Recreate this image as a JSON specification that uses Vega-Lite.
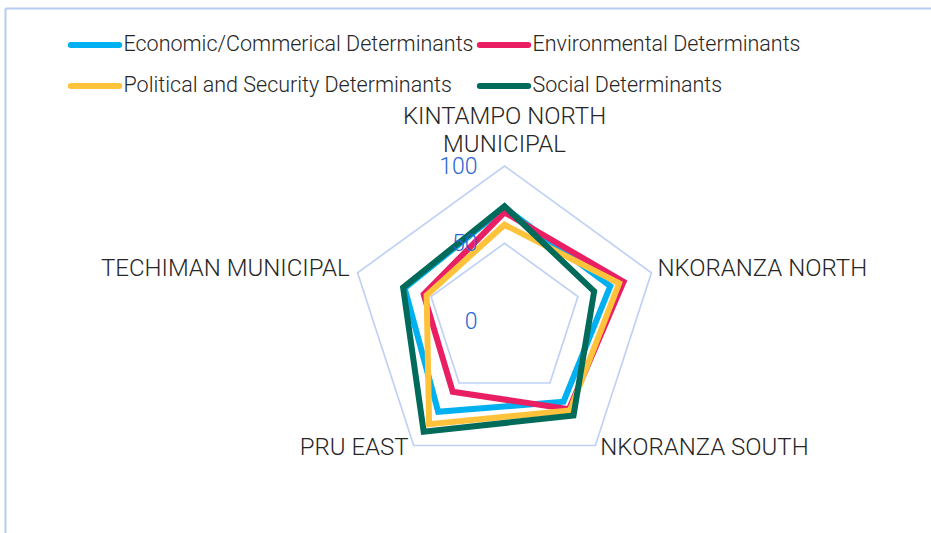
{
  "$schema": "https://vega.github.io/schema/vega-lite/v6.json",
  "width": 926,
  "height": 525,
  "padding": {"left": 5, "top": 8, "right": 0, "bottom": 0},
  "autosize": {"type": "none"},
  "background": "white",
  "config": {
    "view": {"stroke": null},
    "font": "Roboto",
    "text": {"font": "Roboto"},
    "axis": {"labels": false, "ticks": false, "grid": false, "domain": true, "domainColor": "#b7cbf2", "domainWidth": 2}
  },
  "datasets": {
    "axes": [
      {"district": "KINTAMPO NORTH MUNICIPAL", "order": 0},
      {"district": "NKORANZA NORTH", "order": 1},
      {"district": "NKORANZA SOUTH", "order": 2},
      {"district": "PRU EAST", "order": 3},
      {"district": "TECHIMAN MUNICIPAL", "order": 4}
    ],
    "scores": [
      {"series": "Economic/Commerical Determinants", "district": "KINTAMPO NORTH MUNICIPAL", "value": 73},
      {"series": "Economic/Commerical Determinants", "district": "NKORANZA NORTH", "value": 72},
      {"series": "Economic/Commerical Determinants", "district": "NKORANZA SOUTH", "value": 65},
      {"series": "Economic/Commerical Determinants", "district": "PRU EAST", "value": 73},
      {"series": "Economic/Commerical Determinants", "district": "TECHIMAN MUNICIPAL", "value": 68},
      {"series": "Environmental Determinants", "district": "KINTAMPO NORTH MUNICIPAL", "value": 70},
      {"series": "Environmental Determinants", "district": "NKORANZA NORTH", "value": 81},
      {"series": "Environmental Determinants", "district": "NKORANZA SOUTH", "value": 71},
      {"series": "Environmental Determinants", "district": "PRU EAST", "value": 57},
      {"series": "Environmental Determinants", "district": "TECHIMAN MUNICIPAL", "value": 55},
      {"series": "Political and Security Determinants", "district": "KINTAMPO NORTH MUNICIPAL", "value": 62},
      {"series": "Political and Security Determinants", "district": "NKORANZA NORTH", "value": 78},
      {"series": "Political and Security Determinants", "district": "NKORANZA SOUTH", "value": 72},
      {"series": "Political and Security Determinants", "district": "PRU EAST", "value": 83},
      {"series": "Political and Security Determinants", "district": "TECHIMAN MUNICIPAL", "value": 53},
      {"series": "Social Determinants", "district": "KINTAMPO NORTH MUNICIPAL", "value": 74},
      {"series": "Social Determinants", "district": "NKORANZA NORTH", "value": 61},
      {"series": "Social Determinants", "district": "NKORANZA SOUTH", "value": 76},
      {"series": "Social Determinants", "district": "PRU EAST", "value": 89},
      {"series": "Social Determinants", "district": "TECHIMAN MUNICIPAL", "value": 69}
    ],
    "grid": [
      {"ring": 50, "district": "KINTAMPO NORTH MUNICIPAL"},
      {"ring": 50, "district": "NKORANZA NORTH"},
      {"ring": 50, "district": "NKORANZA SOUTH"},
      {"ring": 50, "district": "PRU EAST"},
      {"ring": 50, "district": "TECHIMAN MUNICIPAL"},
      {"ring": 100, "district": "KINTAMPO NORTH MUNICIPAL"},
      {"ring": 100, "district": "NKORANZA NORTH"},
      {"ring": 100, "district": "NKORANZA SOUTH"},
      {"ring": 100, "district": "PRU EAST"},
      {"ring": 100, "district": "TECHIMAN MUNICIPAL"}
    ],
    "ticks": [{"tick": 0}, {"tick": 50}, {"tick": 100}]
  },
  "layer": [
    {
      "data": {"name": "grid"},
      "transform": [
        {"lookup": "district", "from": {"data": {"name": "axes"}, "key": "district", "fields": ["order"]}},
        {"calculate": "datum.ring * sin(datum.order * 2 * PI / 5)", "as": "px"},
        {"calculate": "datum.ring * cos(datum.order * 2 * PI / 5)", "as": "py"}
      ],
      "mark": {"type": "line", "interpolate": "linear-closed", "color": "#bfd2f6", "strokeWidth": 1.7},
      "encoding": {
        "x": {"field": "px", "type": "quantitative", "title": null, "scale": {"domain": [-323.3, 276.05], "nice": false, "zero": false},
          "axis": {"orient": "top", "labels": false, "ticks": false, "grid": false, "title": null, "domain": true, "domainColor": "#b7cbf2", "domainWidth": 2}},
        "y": {"field": "py", "type": "quantitative", "title": null, "scale": {"domain": [-137.54, 202.27], "nice": false, "zero": false},
          "axis": {"orient": "left", "labels": false, "ticks": false, "grid": false, "title": null, "domain": true, "domainColor": "#b7cbf2", "domainWidth": 2}},
        "detail": {"field": "ring"},
        "order": {"field": "order", "type": "quantitative"}
      }
    },
    {
      "data": {"name": "scores"},
      "transform": [
        {"lookup": "district", "from": {"data": {"name": "axes"}, "key": "district", "fields": ["order"]}},
        {"calculate": "datum.value * sin(datum.order * 2 * PI / 5)", "as": "px"},
        {"calculate": "datum.value * cos(datum.order * 2 * PI / 5)", "as": "py"}
      ],
      "mark": {"type": "line", "interpolate": "linear-closed", "strokeWidth": 6, "strokeJoin": "miter"},
      "encoding": {
        "x": {"field": "px", "type": "quantitative", "title": null, "scale": {"domain": [-323.3, 276.05], "nice": false, "zero": false}},
        "y": {"field": "py", "type": "quantitative", "title": null, "scale": {"domain": [-137.54, 202.27], "nice": false, "zero": false}},
        "order": {"field": "order", "type": "quantitative"},
        "color": {
          "field": "series", "type": "nominal",
          "scale": {
            "domain": ["Economic/Commerical Determinants", "Environmental Determinants", "Political and Security Determinants", "Social Determinants"],
            "range": ["#00b0f0", "#e91e63", "#ffc33b", "#006b5a"]
          },
          "legend": {
            "orient": "none", "legendX": 76, "legendY": 23, "direction": "horizontal", "columns": 2,
            "title": null, "padding": 0,
            "symbolType": "M-2.2,0H2.2", "symbolSize": 484, "symbolStrokeWidth": 6,
            "labelFont": "Roboto", "labelFontSize": 21.5, "labelFontWeight": 300, "labelColor": "#262626",
            "labelOffset": 14.5, "columnPadding": -7, "rowPadding": 15, "labelLimit": 500,
            "encode": {"symbols": {"update": {"strokeCap": {"value": "round"}}}}
          }
        }
      }
    },
    {
      "data": {"name": "ticks"},
      "transform": [
        {"calculate": "0", "as": "px"}
      ],
      "mark": {"type": "text", "align": "right", "baseline": "middle", "dx": -27, "dy": 1, "fontSize": 23, "fontWeight": 300, "color": "#2a64d6"},
      "encoding": {
        "x": {"field": "px", "type": "quantitative", "title": null, "scale": {"domain": [-323.3, 276.05], "nice": false, "zero": false}},
        "y": {"field": "tick", "type": "quantitative", "title": null, "scale": {"domain": [-137.54, 202.27], "nice": false, "zero": false}},
        "text": {"field": "tick", "type": "quantitative"}
      }
    },
    {
      "data": {"name": "axes"},
      "transform": [
        {"calculate": "100 * sin(datum.order * 2 * PI / 5)", "as": "px"},
        {"calculate": "100 * cos(datum.order * 2 * PI / 5)", "as": "py"},
        {"calculate": "replace(datum.district, 'NORTH ', 'NORTH\\n')", "as": "label"}
      ],
      "encoding": {
        "x": {"field": "px", "type": "quantitative", "title": null, "scale": {"domain": [-323.3, 276.05], "nice": false, "zero": false}},
        "y": {"field": "py", "type": "quantitative", "title": null, "scale": {"domain": [-137.54, 202.27], "nice": false, "zero": false}},
        "text": {"field": "label"}
      },
      "layer": [
        {"transform": [{"filter": "datum.order == 0"}],
         "mark": {"type": "text", "align": "center", "baseline": "middle", "dy": -49.5, "lineBreak": "\n", "lineHeight": 28, "fontSize": 24, "fontWeight": 300, "color": "#262626"}},
        {"transform": [{"filter": "datum.order == 1"}],
         "mark": {"type": "text", "align": "left", "baseline": "middle", "dx": 6, "dy": -4, "fontSize": 24, "fontWeight": 300, "color": "#262626"}},
        {"transform": [{"filter": "datum.order == 2"}],
         "mark": {"type": "text", "align": "left", "baseline": "middle", "dx": 5, "dy": 3, "fontSize": 24, "fontWeight": 300, "color": "#262626"}},
        {"transform": [{"filter": "datum.order == 3"}],
         "mark": {"type": "text", "align": "right", "baseline": "middle", "dx": -5, "dy": 3, "fontSize": 24, "fontWeight": 300, "color": "#262626"}},
        {"transform": [{"filter": "datum.order == 4"}],
         "mark": {"type": "text", "align": "right", "baseline": "middle", "dx": -8, "dy": -4, "fontSize": 24, "fontWeight": 300, "color": "#262626"}}
      ]
    }
  ]
}
